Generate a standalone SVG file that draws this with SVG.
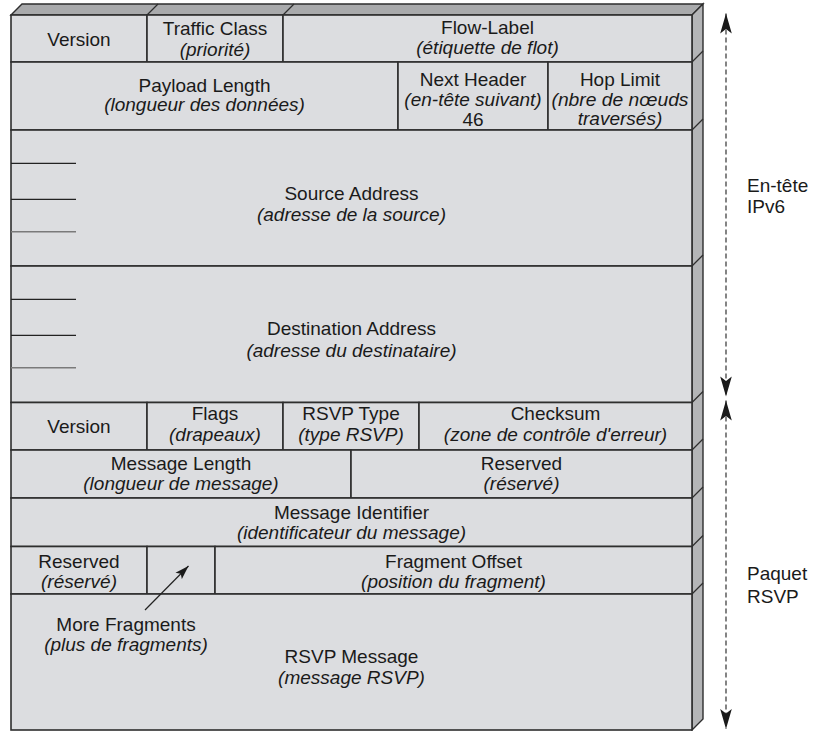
<svg xmlns="http://www.w3.org/2000/svg" width="813" height="731" viewBox="0 0 813 731">
<style>
  text{font-family:"Liberation Sans",Arial,sans-serif;font-size:19px;fill:#1a1a1a;text-anchor:middle}
  .it{font-style:italic}
  .lbl{text-anchor:start}
  .cell{fill:#dcdde0;stroke:#2e2e2e;stroke-width:1.6}
  .top{fill:#a9aaac;stroke:#2e2e2e;stroke-width:1.4}
  .side{fill:#b4b5b7;stroke:#2e2e2e;stroke-width:1.4}
  .edge{stroke:#2e2e2e;stroke-width:1.2;fill:none}
  .tick{stroke:#222;stroke-width:1.3}
  .tick2{stroke:#7a7a7a;stroke-width:1.6}
  .dash{stroke:#333;stroke-width:1.2;stroke-dasharray:5 3;fill:none}
  .ptr{stroke:#222;stroke-width:1.2;fill:none}
</style>
<defs>
  <marker id="head" viewBox="-21 -6.5 22 13" refX="0" refY="0" markerWidth="22" markerHeight="13" markerUnits="userSpaceOnUse" orient="auto-start-reverse">
    <path d="M0,0 L-20,-5.8 L-15.5,0 L-20,5.8 Z" fill="#1a1a1a"/>
  </marker>
  <marker id="small" viewBox="0 -5 14 10" refX="14" refY="0" markerWidth="14" markerHeight="10" markerUnits="userSpaceOnUse" orient="auto">
    <path d="M0,-4.5 L14,0 L0,4.5 L3,0 Z" fill="#1a1a1a"/>
  </marker>
</defs>

<g id="box3d">
  <polygon class="top" points="11,15 22,4 703,4 692,15"/>
  <polygon class="side" points="692,15 703,4 703,719 692,730"/>
  <line class="edge" x1="147" y1="15" x2="158" y2="4"/>
  <line class="edge" x1="283" y1="15" x2="294" y2="4"/>
  <line class="edge" x1="692" y1="62" x2="703" y2="51"/>
  <line class="edge" x1="692" y1="130" x2="703" y2="119"/>
  <line class="edge" x1="692" y1="266" x2="703" y2="255"/>
  <line class="edge" x1="692" y1="402.5" x2="703" y2="391.5"/>
  <line class="edge" x1="692" y1="450" x2="703" y2="439"/>
  <line class="edge" x1="692" y1="498" x2="703" y2="487"/>
  <line class="edge" x1="692" y1="546.5" x2="703" y2="535.5"/>
  <line class="edge" x1="692" y1="594" x2="703" y2="583"/>
</g>

<g id="ipv6-version"><rect class="cell" x="11" y="15" width="136" height="47"/><text x="79" y="46">Version</text></g>
<g id="traffic-class"><rect class="cell" x="147" y="15" width="136" height="47"/><text x="215" y="35">Traffic Class</text><text class="it" x="215" y="55.5">(priorité)</text></g>
<g id="flow-label"><rect class="cell" x="283" y="15" width="409" height="47"/><text x="487.5" y="33.5">Flow-Label</text><text class="it" x="487.5" y="53.5">(étiquette de flot)</text></g>

<g id="payload-length"><rect class="cell" x="11" y="62" width="387" height="68"/><text x="204.5" y="91.5">Payload Length</text><text class="it" x="204.5" y="110.5">(longueur des données)</text></g>
<g id="next-header"><rect class="cell" x="398" y="62" width="150" height="68"/><text x="473" y="86">Next Header</text><text class="it" x="473" y="106">(en-tête suivant)</text><text x="473" y="125.5">46</text></g>
<g id="hop-limit"><rect class="cell" x="548" y="62" width="144" height="68"/><text x="620" y="86">Hop Limit</text><text class="it" x="620" y="106" textLength="137" lengthAdjust="spacingAndGlyphs">(nbre de nœuds</text><text class="it" x="620" y="125">traversés)</text></g>

<g id="source-address"><rect class="cell" x="11" y="130" width="681" height="136"/>
  <line class="tick" x1="11" y1="163.3" x2="76" y2="163.3"/><line class="tick" x1="11" y1="199.3" x2="76" y2="199.3"/><line class="tick2" x1="11" y1="231.7" x2="76" y2="231.7"/>
  <text x="351.5" y="199.5">Source Address</text><text class="it" x="351.5" y="221">(adresse de la source)</text></g>
<g id="destination-address"><rect class="cell" x="11" y="266" width="681" height="136.5"/>
  <line class="tick" x1="11" y1="299.3" x2="76" y2="299.3"/><line class="tick" x1="11" y1="335.3" x2="76" y2="335.3"/><line class="tick2" x1="11" y1="367.7" x2="76" y2="367.7"/>
  <text x="351.5" y="335">Destination Address</text><text class="it" x="351.5" y="357">(adresse du destinataire)</text></g>

<g id="rsvp-version"><rect class="cell" x="11" y="402.5" width="136" height="47.5"/><text x="79" y="433">Version</text></g>
<g id="flags"><rect class="cell" x="147" y="402.5" width="136" height="47.5"/><text x="215" y="420">Flags</text><text class="it" x="215" y="441">(drapeaux)</text></g>
<g id="rsvp-type"><rect class="cell" x="283" y="402.5" width="136" height="47.5"/><text x="351" y="420">RSVP Type</text><text class="it" x="351" y="441">(type RSVP)</text></g>
<g id="checksum"><rect class="cell" x="419" y="402.5" width="273" height="47.5"/><text x="555.5" y="420">Checksum</text><text class="it" x="555.5" y="441">(zone de contrôle d'erreur)</text></g>

<g id="message-length"><rect class="cell" x="11" y="450" width="340" height="48"/><text x="181" y="470">Message Length</text><text class="it" x="181" y="490">(longueur de message)</text></g>
<g id="reserved-1"><rect class="cell" x="351" y="450" width="341" height="48"/><text x="521.5" y="470">Reserved</text><text class="it" x="521.5" y="490">(réservé)</text></g>

<g id="message-identifier"><rect class="cell" x="11" y="498" width="681" height="48.5"/><text x="351.5" y="518.5">Message Identifier</text><text class="it" x="351.5" y="538.5">(identificateur du message)</text></g>

<g id="reserved-2"><rect class="cell" x="11" y="546.5" width="136" height="47.5"/><text x="79" y="568">Reserved</text><text class="it" x="79" y="588">(réservé)</text></g>
<g id="more-fragments-bit"><rect class="cell" x="147" y="546.5" width="68" height="47.5"/></g>
<g id="fragment-offset"><rect class="cell" x="215" y="546.5" width="477" height="47.5"/><text x="453.5" y="568">Fragment Offset</text><text class="it" x="453.5" y="588">(position du fragment)</text></g>

<g id="rsvp-message"><rect class="cell" x="11" y="594" width="681" height="136"/><text x="351.5" y="662.5">RSVP Message</text><text class="it" x="351.5" y="684">(message RSVP)</text></g>

<g id="more-fragments-label"><text x="126" y="631">More Fragments</text><text class="it" x="126" y="651">(plus de fragments)</text></g>

<g id="label-ipv6"><text class="lbl" x="747" y="191.5">En-tête</text><text class="lbl" x="747" y="212.5">IPv6</text></g>
<g id="label-rsvp"><text class="lbl" x="747" y="580">Paquet</text><text class="lbl" x="747" y="603">RSVP</text></g>

<g id="connectors">
  <line class="dash" x1="726" y1="13.5" x2="726" y2="396.5" marker-start="url(#head)" marker-end="url(#head)"/>
  <line class="dash" x1="726" y1="400.5" x2="726" y2="729" marker-start="url(#head)" marker-end="url(#head)"/>
  <line class="ptr" x1="145" y1="610" x2="188.5" y2="566" marker-end="url(#small)"/>
</g>
</svg>
